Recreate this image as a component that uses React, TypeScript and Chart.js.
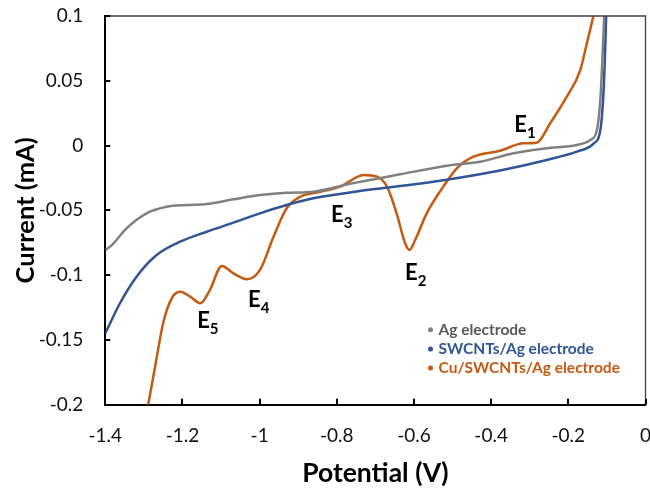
import React, { useEffect, useRef } from "react";
import { Chart, registerables } from "chart.js";

Chart.register(...registerables);

// ---- data (Potential in V, Current in mA) ----
const agX = [-1.4, -1.383, -1.345, -1.293, -1.241, -1.189, -1.137, -1.068, -0.999, -0.93, -0.861, -0.766, -0.636, -0.506, -0.429, -0.342, -0.256, -0.178, -0.143, -0.126, -0.116, -0.11, -0.107];
const agY = [-0.0806, -0.0768, -0.0639, -0.0523, -0.0472, -0.0459, -0.0451, -0.0415, -0.0382, -0.0364, -0.0356, -0.0295, -0.0222, -0.0152, -0.0125, -0.006, -0.0021, 0.0004, 0.0043, 0.012, 0.0403, 0.0789, 0.1];

const swX = [-1.4, -1.362, -1.319, -1.267, -1.206, -1.137, -1.068, -0.999, -0.93, -0.861, -0.722, -0.55, -0.377, -0.256, -0.178, -0.134, -0.117, -0.109, -0.104, -0.102];
const swY = [-0.1449, -0.1217, -0.1012, -0.0845, -0.0742, -0.0665, -0.0595, -0.0523, -0.0459, -0.0407, -0.0343, -0.0279, -0.0192, -0.0111, -0.0047, 0.0017, 0.012, 0.0403, 0.0789, 0.1];

const cuX = [-1.289, -1.271, -1.25, -1.228, -1.206, -1.18, -1.154, -1.129, -1.098, -1.068, -1.033, -0.999, -0.964, -0.93, -0.895, -0.843, -0.791, -0.731, -0.696, -0.67, -0.645, -0.623, -0.612, -0.597, -0.567, -0.524, -0.489, -0.446, -0.377, -0.316, -0.282, -0.247, -0.204, -0.169, -0.152, -0.135];
const cuY = [-0.2002, -0.1707, -0.137, -0.1179, -0.1128, -0.1166, -0.1217, -0.1115, -0.0929, -0.0986, -0.1032, -0.096, -0.0703, -0.0484, -0.0395, -0.0356, -0.0317, -0.0227, -0.024, -0.0317, -0.0523, -0.0754, -0.0806, -0.0729, -0.0523, -0.0317, -0.0176, -0.0086, -0.004, 0.0017, 0.0022, 0.0172, 0.0377, 0.0583, 0.0789, 0.1];

const seriesLabels = ["Ag electrode", "SWCNTs/Ag electrode", "Cu/SWCNTs/Ag electrode"];

const xTicks = [-1.4, -1.2, -1, -0.8, -0.6, -0.4, -0.2, 0];
const xTickLabels = ["-1.4", "-1.2", "-1", "-0.8", "-0.6", "-0.4", "-0.2", "0"];
const yTicks = [0.1, 0.05, 0, -0.05, -0.1, -0.15, -0.2];
const yTickLabels = ["0.1", "0.05", "0", "-0.05", "-0.1", "-0.15", "-0.2"];

// peak labels E1..E5 (data coords of the label's left baseline)
const peakSubs = ["1", "2", "3", "4", "5"];
const peakX = [-0.34, -0.623, -0.815, -1.03, -1.162];
const peakY = [0.0105, -0.1037, -0.059, -0.1246, -0.1408];

const lineColors = ["#808080", "#2F5597", "#C55A11"];
const legendTextColors = ["#595959", "#2F5597", "#C55A11"];

const FONT = "Lato, 'Open Sans', sans-serif";

const zip = (xs: number[], ys: number[]) => xs.map((x, i) => ({ x, y: ys[i] }));

const decorPlugin = {
  id: "decor",
  afterDraw(chart: any) {
    const { ctx, chartArea: a, scales } = chart;
    const xs = scales.x;
    const ys = scales.y;
    ctx.save();
    // top & right frame
    ctx.strokeStyle = "#404040";
    ctx.lineWidth = 1.3;
    ctx.beginPath();
    ctx.moveTo(a.left, a.top);
    ctx.lineTo(a.right, a.top);
    ctx.lineTo(a.right, a.bottom);
    ctx.stroke();
    // inward ticks
    ctx.strokeStyle = "#000";
    ctx.lineWidth = 2;
    ctx.beginPath();
    xTicks.forEach((v) => {
      const px = Math.round(xs.getPixelForValue(v));
      ctx.moveTo(px, a.bottom);
      ctx.lineTo(px, a.bottom - 6);
    });
    yTicks.forEach((v) => {
      const py = Math.round(ys.getPixelForValue(v));
      ctx.moveTo(a.left, py);
      ctx.lineTo(a.left + 5, py);
    });
    ctx.stroke();

    // peak labels
    ctx.fillStyle = "#000";
    ctx.textBaseline = "alphabetic";
    ctx.textAlign = "left";
    peakSubs.forEach((s, i) => {
      const px = xs.getPixelForValue(peakX[i]);
      const py = ys.getPixelForValue(peakY[i]);
      ctx.font = `bold 22px ${FONT}`;
      ctx.fillText("E", px, py);
      const w = ctx.measureText("E").width;
      ctx.font = `bold 15px ${FONT}`;
      ctx.fillText(s, px + w, py + 6);
    });

    // legend
    const lx = a.right - 215;
    const ly0 = a.bottom - 75;
    ctx.font = `bold 15.5px ${FONT}`;
    ctx.textBaseline = "middle";
    seriesLabels.forEach((lab, i) => {
      const y = ly0 + i * 19.2;
      ctx.fillStyle = lineColors[i];
      ctx.beginPath();
      ctx.arc(lx, y, 2.5, 0, Math.PI * 2);
      ctx.fill();
      ctx.fillStyle = legendTextColors[i];
      ctx.fillText(lab, lx + 8, y);
    });
    ctx.restore();
  },
};

export default function App() {
  const ref = useRef<HTMLCanvasElement | null>(null);

  useEffect(() => {
    if (!ref.current) return;
    Chart.defaults.font.family = FONT;
    const chart = new Chart(ref.current, {
      type: "line",
      data: {
        datasets: [
          { label: seriesLabels[0], data: zip(agX, agY), borderColor: lineColors[0] },
          { label: seriesLabels[1], data: zip(swX, swY), borderColor: lineColors[1] },
          { label: seriesLabels[2], data: zip(cuX, cuY), borderColor: lineColors[2] },
        ].map((d) => ({
          ...d,
          borderWidth: 2.5,
          pointRadius: 0,
          fill: false,
          cubicInterpolationMode: "monotone" as const,
        })),
      },
      options: {
        responsive: false,
        animation: false,
        devicePixelRatio: 1,
        layout: { padding: { top: 16, right: 4.5, left: 0, bottom: 0 } },
        plugins: { legend: { display: false }, tooltip: { enabled: false } },
        scales: {
          x: {
            type: "linear",
            min: -1.4,
            max: 0,
            afterBuildTicks: (s: any) => {
              s.ticks = xTicks.map((v) => ({ value: v }));
            },
            afterFit: (s: any) => {
              s.height = 84.3;
              s.paddingLeft = 0;
              s.paddingRight = 0;
            },
            grid: { display: false, drawTicks: false },
            border: { display: true, color: "#000", width: 2 },
            ticks: {
              padding: 20,
              color: "#111",
              font: { size: 19, family: FONT },
              maxRotation: 0,
              autoSkip: false,
              callback: (v: any) => xTickLabels[xTicks.findIndex((t) => Math.abs(t - v) < 1e-9)],
            },
            title: {
              display: true,
              text: "Potential (V)",
              color: "#000",
              font: { size: 26.5, weight: "bold", family: FONT },
              padding: { top: 0, bottom: 0 },
            },
          },
          y: {
            type: "linear",
            min: -0.2,
            max: 0.1,
            afterBuildTicks: (s: any) => {
              s.ticks = yTicks.map((v) => ({ value: v }));
            },
            afterFit: (s: any) => {
              s.width = 105.3;
              s.paddingTop = 0;
              s.paddingBottom = 0;
            },
            grid: { display: false, drawTicks: false },
            border: { display: true, color: "#000", width: 2 },
            ticks: {
              padding: 22,
              color: "#111",
              font: { size: 19, family: FONT },
              autoSkip: false,
              callback: (v: any) => yTickLabels[yTicks.findIndex((t) => Math.abs(t - v) < 1e-9)],
            },
            title: {
              display: true,
              text: "Current (mA)",
              color: "#000",
              font: { size: 25.5, weight: "bold", family: FONT },
              padding: { top: 10, bottom: 0 },
            },
          },
        },
      },
      plugins: [decorPlugin],
    });
    return () => chart.destroy();
  }, []);

  return (
    <div style={{ position: "absolute", left: 0, top: 0, width: 650, height: 489, background: "#fff" }}>
      <canvas ref={ref} width={650} height={489} style={{ width: 650, height: 489, display: "block" }} />
    </div>
  );
}
